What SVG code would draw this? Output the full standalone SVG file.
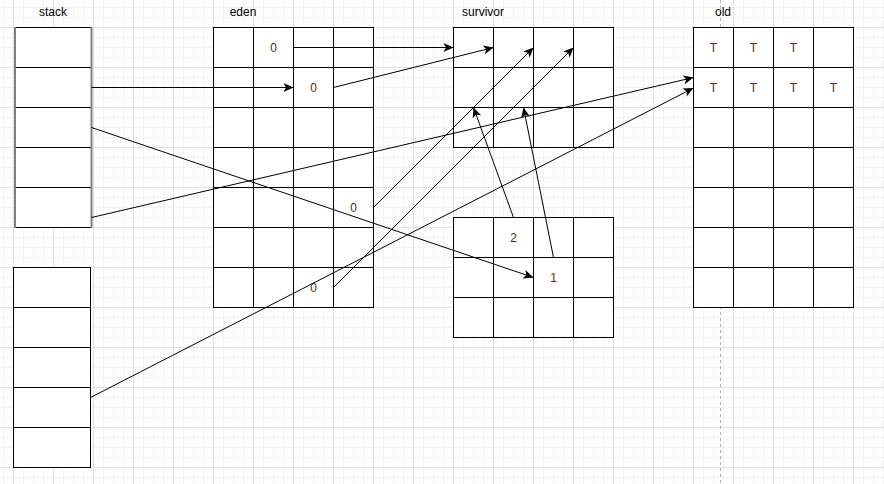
<svg xmlns="http://www.w3.org/2000/svg" width="884" height="484" viewBox="0 0 884 484">
<defs>
<pattern id="grid" patternUnits="userSpaceOnUse" x="13" y="27" width="40" height="40">
<path d="M10.5,0V40M20.5,0V40M30.5,0V40M0,10.5H40M0,20.5H40M0,30.5H40" stroke="#f3f3f3" stroke-width="1" fill="none"/>
<path d="M0.5,0V40M0,0.5H40" stroke="#e2e2e2" stroke-width="1" fill="none"/>
</pattern>
<marker id="arr" markerUnits="userSpaceOnUse" markerWidth="11" markerHeight="9" refX="10" refY="4.5" orient="auto" overflow="visible">
<path d="M0,0 L10,4.5 L0,9 L2.5,4.5 Z" fill="#000"/>
</marker>
</defs>
<style>
.cell{fill:#fff;stroke:#000;stroke-width:1}
.ln{stroke:#000;stroke-width:1;fill:none}
.lbl{font-family:"Liberation Sans",Arial,sans-serif;font-size:12px;fill:#000;text-anchor:middle}
.v{font-family:"Liberation Sans",Arial,sans-serif;font-size:12px;fill:#5c2e00;text-anchor:middle}
.conn line{stroke:#000;stroke-width:1;marker-end:url(#arr)}
</style>
<rect x="0" y="0" width="884" height="484" fill="#fff"/>
<rect x="0" y="0" width="884" height="484" fill="url(#grid)"/>
<line x1="720.5" y1="0" x2="720.5" y2="484" stroke="#b0b0b0" stroke-width="1" stroke-dasharray="3,3"/>

<g id="labels">
<text class="lbl" x="53" y="16">stack</text>
<text class="lbl" x="243" y="16">eden</text>
<text class="lbl" x="483" y="16">survivor</text>
<text class="lbl" x="723" y="16">old</text>
</g>

<g id="stack1">
<rect x="15.5" y="27.5" width="76" height="200" fill="#fff"/>
<path class="ln" d="M15,27.5H92M15,67.5H92M15,107.5H92M15,147.5H92M15,187.5H92M15,227.5H92"/>
<path d="M15,27V228M91.5,27V228" stroke="#808080" stroke-width="2" fill="none"/>
</g>

<g id="stack2">
<rect class="cell" x="13.5" y="267.5" width="77" height="200"/>
<path class="ln" d="M13.5,307.5H90.5M13.5,347.5H90.5M13.5,387.5H90.5M13.5,427.5H90.5"/>
</g>

<g id="eden">
<rect class="cell" x="213.5" y="27.5" width="160" height="280"/>
<path class="ln" d="M253.5,27.5V307.5M293.5,27.5V307.5M333.5,27.5V307.5M213.5,67.5H373.5M213.5,107.5H373.5M213.5,147.5H373.5M213.5,187.5H373.5M213.5,227.5H373.5M213.5,267.5H373.5"/>
<text class="v" x="273.5" y="51.5">0</text>
<text class="v" x="313.5" y="91.5">0</text>
<text class="v" x="353.5" y="211.5">0</text>
<text class="v" x="313.5" y="291.5">0</text>
</g>

<g id="survivor-top">
<rect class="cell" x="453.5" y="27.5" width="160" height="120"/>
<path class="ln" d="M493.5,27.5V147.5M533.5,27.5V147.5M573.5,27.5V147.5M453.5,67.5H613.5M453.5,107.5H613.5"/>
</g>

<g id="survivor-bottom">
<rect class="cell" x="453.5" y="217.5" width="160" height="120"/>
<path class="ln" d="M493.5,217.5V337.5M533.5,217.5V337.5M573.5,217.5V337.5M453.5,257.5H613.5M453.5,297.5H613.5"/>
<text class="v" x="513.5" y="241.5">2</text>
<text class="v" x="553.5" y="281.5">1</text>
</g>

<g id="old">
<rect class="cell" x="693.5" y="27.5" width="160" height="280"/>
<path class="ln" d="M733.5,27.5V307.5M773.5,27.5V307.5M813.5,27.5V307.5M693.5,67.5H853.5M693.5,107.5H853.5M693.5,147.5H853.5M693.5,187.5H853.5M693.5,227.5H853.5M693.5,267.5H853.5"/>
<text class="v" x="713.5" y="51.5">T</text>
<text class="v" x="753.5" y="51.5">T</text>
<text class="v" x="793.5" y="51.5">T</text>
<text class="v" x="713.5" y="91.5">T</text>
<text class="v" x="753.5" y="91.5">T</text>
<text class="v" x="793.5" y="91.5">T</text>
<text class="v" x="833.5" y="91.5">T</text>
</g>

<g id="connectors" class="conn">
<line x1="293.5" y1="47.5" x2="453.5" y2="47.5"/>
<line x1="91.5" y1="87.5" x2="293.5" y2="87.5"/>
<line x1="333.5" y1="87.5" x2="493.5" y2="47.5"/>
<line x1="91.5" y1="127.5" x2="533.5" y2="277.5"/>
<line x1="91.5" y1="217.5" x2="693.5" y2="77.5"/>
<line x1="90.5" y1="397.5" x2="693.5" y2="88"/>
<line x1="373.5" y1="207.5" x2="533.5" y2="47.5"/>
<line x1="333.5" y1="287.5" x2="573.5" y2="47.5"/>
<line x1="513.5" y1="217.5" x2="473.5" y2="107.5"/>
<line x1="553.5" y1="257.5" x2="523.5" y2="107.5"/>
</g>
</svg>
